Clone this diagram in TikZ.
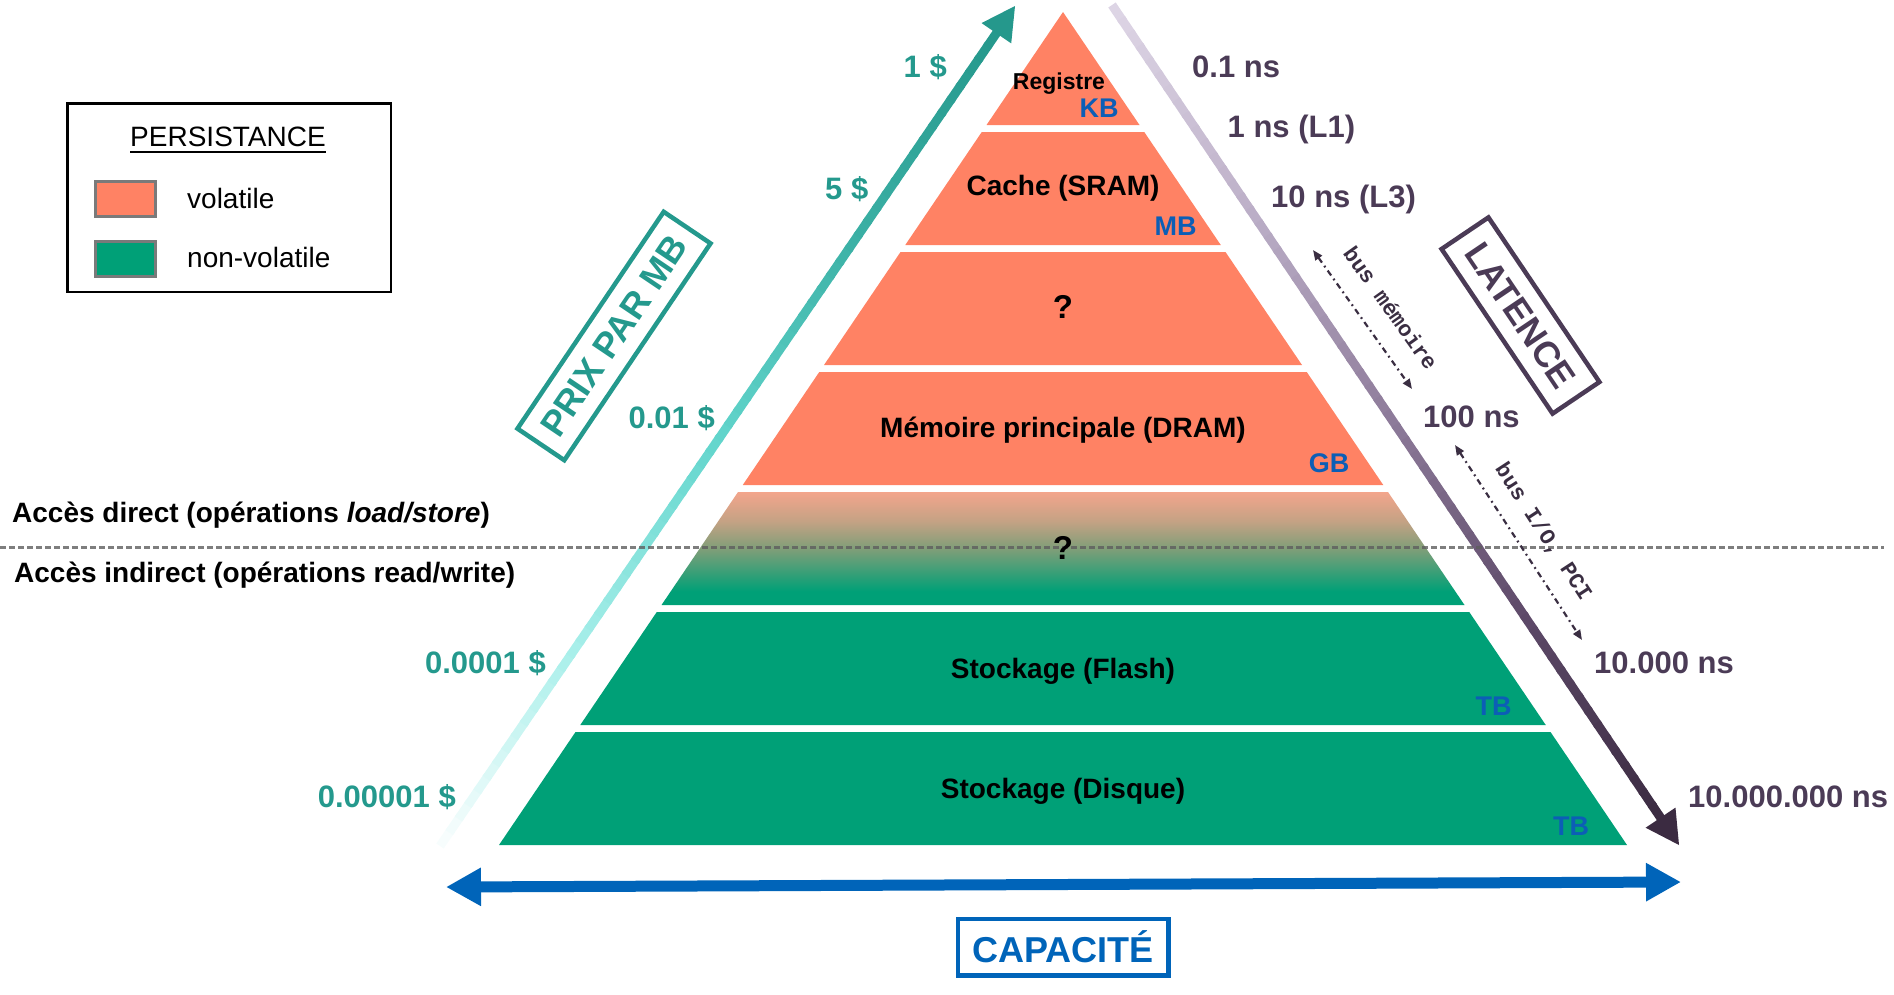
\documentclass[tikz,border=0pt]{standalone}
\usepackage{fontspec}
\setmainfont{Liberation Sans}
\newfontfamily\busmono{Liberation Mono}
\usetikzlibrary{arrows.meta,calc}

\newcommand\setfs[1]{\fontsize{#1}{#1}\selectfont}

\definecolor{orng}{RGB}{255,130,100}
\definecolor{grn}{RGB}{0,160,119}
\definecolor{gmid}{RGB}{128,158,120}
\definecolor{gup}{RGB}{196,162,132}
\definecolor{gtop}{RGB}{243,165,140}
\definecolor{teal1}{RGB}{36,153,141}
\definecolor{ublue}{RGB}{12,94,182}
\definecolor{cblue}{RGB}{0,100,185}
\definecolor{lat}{RGB}{75,59,86}
\definecolor{busc}{RGB}{58,46,66}
\definecolor{swborder}{RGB}{122,122,122}
\definecolor{dashc}{RGB}{94,94,94}
% price arrow stops (bottom -> top)
\definecolor{pc0}{RGB}{250,254,254}
\definecolor{pc1}{RGB}{165,238,233}
\definecolor{pc2}{RGB}{98,213,204}
\definecolor{pc3}{RGB}{59,176,165}
\definecolor{pc4}{RGB}{37,152,140}
% latency arrow stops (top -> bottom)
\definecolor{lc0}{RGB}{222,214,230}
\definecolor{lc1}{RGB}{189,176,200}
\definecolor{lc2}{RGB}{143,125,156}
\definecolor{lc3}{RGB}{94,74,105}
\definecolor{lc4}{RGB}{59,43,65}

\pgfdeclareverticalshading{gradband}{100bp}{color(0bp)=(grn); color(25bp)=(grn); color(31bp)=(grn); color(50bp)=(gmid); color(62bp)=(gup); color(75bp)=(gtop); color(100bp)=(gtop)}

\begin{document}
\begin{tikzpicture}[x=1pt,y=-1pt,
  bandlbl/.style={font=\bfseries\setfs{28}, anchor=base, inner sep=0pt},
  unitlbl/.style={font=\bfseries\setfs{27}, text=ublue, anchor=base, inner sep=0pt},
  latlbl/.style={font=\bfseries\setfs{31}, text=lat, anchor=base west, inner sep=0pt},
  pricelbl/.style={font=\bfseries\setfs{31}, text=teal1, anchor=base east, inner sep=0pt},
  accesslbl/.style={font=\bfseries\setfs{28}, anchor=base west, inner sep=0pt},
  legtxt/.style={font=\setfs{28}, anchor=base west, inner sep=0pt},
  swatch/.style={draw=swborder, line width=3pt, minimum width=60pt, minimum height=35pt, inner sep=0pt},
  titlebox/.style={draw, line width=4.5pt, font=\bfseries\setfs{36}, inner sep=0pt, minimum height=56.5pt},
  busarrow/.style={draw=busc, line width=2.2pt, dash pattern=on 6pt off 4pt on 1.8pt off 4pt,
     {Triangle[length=10pt,width=8pt]}-{Triangle[length=10pt,width=8pt]}},
  bustxt/.style={font=\busmono\bfseries\setfs{22}, text=busc, inner sep=0pt},
  dashline/.style={draw=dashc, draw opacity=0.8, line width=2.2pt, dash pattern=on 6pt off 3pt}
]
\useasboundingbox (0,0) rectangle (1894,994);

% ---------------- Pyramid ----------------
\fill[orng] (1063,12) -- (1139.5,125) -- (986.5,125) -- cycle;
\fill[orng] (981.75,132) -- (1144.25,132) -- (1220.76,245) -- (905.24,245) -- cycle;
\fill[orng] (900.5,252) -- (1225.5,252) -- (1302,365) -- (824,365) -- cycle;
\fill[orng] (819.25,372) -- (1306.75,372) -- (1383.25,485) -- (742.75,485) -- cycle;
\shade[shading=gradband] (738,492) -- (1388,492) -- (1464.5,605) -- (661.5,605) -- cycle;
\fill[grn] (656.76,612) -- (1469.24,612) -- (1545.75,725) -- (580.25,725) -- cycle;
\fill[grn] (575.5,732) -- (1550.5,732) -- (1627,845) -- (499,845) -- cycle;

% ---------------- Price arrow (gradient) ----------------
\coordinate (p0) at (440,846);
\coordinate (p1) at (1015,6);
\coordinate (pb) at ($(p1)!33pt!(p0)$);
\foreach \ca/\cb/\ta/\tb in {pc0/pc1/0/0.25, pc1/pc2/0.25/0.5, pc2/pc3/0.5/0.75, pc3/pc4/0.75/1}{
  \foreach \j in {0,...,14}{
    \pgfmathsetmacro\sa{\ta+(\tb-\ta)*\j/15}
    \pgfmathsetmacro\sb{\ta+(\tb-\ta)*(\j+1.2)/15}
    \pgfmathsetmacro\pp{100*(\j+0.5)/15}
    \draw[line width=9pt, color=\cb!\pp!\ca] ($(p0)!\sa!(pb)$) -- ($(p0)!\sb!(pb)$);
  }
}
\fill[pc4] (p1) -- ($(pb)!18pt!90:(p1)$) -- ($(pb)!18pt!-90:(p1)$) -- cycle;

% ---------------- Latency arrow (gradient) ----------------
\coordinate (l0) at (1112,5);
\coordinate (l1) at (1679,845);
\coordinate (lb) at ($(l1)!33pt!(l0)$);
\foreach \ca/\cb/\ta/\tb in {lc0/lc1/0/0.25, lc1/lc2/0.25/0.5, lc2/lc3/0.5/0.75, lc3/lc4/0.75/1}{
  \foreach \j in {0,...,14}{
    \pgfmathsetmacro\sa{\ta+(\tb-\ta)*\j/15}
    \pgfmathsetmacro\sb{\ta+(\tb-\ta)*(\j+1.2)/15}
    \pgfmathsetmacro\pp{100*(\j+0.5)/15}
    \draw[line width=9pt, color=\cb!\pp!\ca] ($(l0)!\sa!(lb)$) -- ($(l0)!\sb!(lb)$);
  }
}
\fill[lc4] (l1) -- ($(lb)!18pt!90:(l1)$) -- ($(lb)!18pt!-90:(l1)$) -- cycle;

% ---------------- Capacity arrow ----------------
\coordinate (cl) at (446,887);
\coordinate (cr) at (1681,882);
\draw[cblue, line width=11pt, {Triangle[length=35pt,width=36pt]}-{Triangle[length=35pt,width=36pt]}] (cl) -- (cr);

% ---------------- Dashed separator ----------------
\coordinate (dl) at (0,547.5);
\coordinate (dr) at (1884,547.5);
\draw[dashline] (dl) -- (dr);

% ---------------- Band labels ----------------
\node[bandlbl, font=\bfseries\setfs{23}] (reg) at (1059,89) {Registre};
\node[unitlbl] (kb) at (1099,117) {KB};
\node[bandlbl] (cache) at (1063,195) {Cache (SRAM)};
\node[unitlbl] (mb) at (1175.5,235) {MB};
\node[bandlbl, font=\bfseries\setfs{33}] (q1) at (1063,318) {?};
\node[bandlbl] (dram) at (1063,437) {Mémoire principale (DRAM)};
\node[unitlbl] (gb) at (1329,472) {GB};
\node[bandlbl, font=\bfseries\setfs{33}] (q2) at (1063,559) {?};
\node[bandlbl] (flash) at (1063,678) {Stockage (Flash)};
\node[unitlbl] (tb1) at (1493.5,715) {TB};
\node[bandlbl] (disk) at (1063,798) {Stockage (Disque)};
\node[unitlbl] (tb2) at (1571,835) {TB};

% ---------------- Price labels ----------------
\node[pricelbl] (pr1) at (947,77) {1 \$};
\node[pricelbl] (pr2) at (868.5,199) {5 \$};
\node[pricelbl] (pr3) at (715,428) {0.01 \$};
\node[pricelbl] (pr4) at (546,673) {0.0001 \$};
\node[pricelbl] (pr5) at (456,807) {0.00001 \$};

% ---------------- Latency labels ----------------
\node[latlbl] (la1) at (1192,77) {0.1 ns};
\node[latlbl] (la2) at (1227.5,137) {1 ns (L1)};
\node[latlbl] (la3) at (1271,207) {10 ns (L3)};
\node[latlbl] (la4) at (1423,427) {100 ns};
\node[latlbl] (la5) at (1594,673) {10.000 ns};
\node[latlbl] (la6) at (1688,807) {10.000.000 ns};

% ---------------- Bus arrows ----------------
\coordinate (bm1) at (1313,250);
\coordinate (bm2) at (1412,389);
\draw[busarrow] (bm1) -- (bm2);
\node[bustxt, rotate=-54.5] (bmt) at (1391,308) {bus mémoire};
\coordinate (bi1) at (1455,445);
\coordinate (bi2) at (1582,640);
\draw[busarrow] (bi1) -- (bi2);
\node[bustxt, rotate=-56.9] (bit) at (1543,532) {bus I/O, PCI};

% ---------------- Titles ----------------
\node[titlebox, draw=teal1, text=teal1, rotate=56, minimum width=261.5pt] (prix) at (614,336) {PRIX PAR MB};
\node[titlebox, draw=lat, text=lat, rotate=-56, minimum width=198.5pt] (latence) at (1520.5,315.5) {LATENCE};
\node[titlebox, draw=cblue, text=cblue, minimum width=210.5pt] (capa) at (1063,947) {CAPACITÉ};

% ---------------- Access labels ----------------
\node[accesslbl] (direct) at (12,522.7) {Accès direct (opérations \textit{load/store})};
\node[accesslbl] (indirect) at (14,582) {Accès indirect (opérations read/write)};

% ---------------- Legend ----------------
\node[draw, line width=2.5pt, minimum width=323.5pt, minimum height=188.5pt, inner sep=0pt, anchor=north west] (legend) at (66.2,102.2) {};
\node[font=\setfs{28}, anchor=base, inner sep=0pt] (pers) at (228,146.7) {PERSISTANCE};
\draw[line width=2.2pt] ($(pers.base west)+(0,5.5)$) -- ($(pers.base east)+(0,5.5)$);
\node[swatch, fill=orng] (sw1) at (125.5,199) {};
\node[swatch, fill=grn] (sw2) at (125.5,258.5) {};
\node[legtxt] (vol) at (187,208) {volatile};
\node[legtxt] (nvol) at (187,267) {non-volatile};
\end{tikzpicture}
\end{document}
